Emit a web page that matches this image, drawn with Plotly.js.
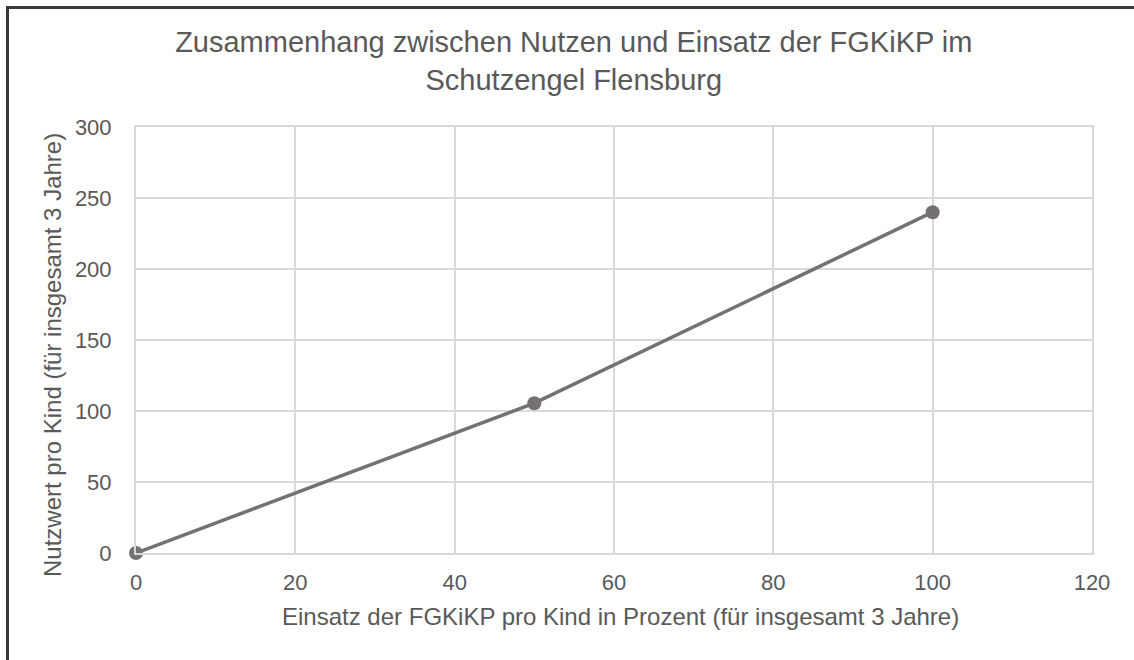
<!DOCTYPE html>
<html>
<head>
<meta charset="utf-8">
<script src="https://cdn.plot.ly/plotly-3.0.1.min.js"></script>
<style>
html,body{margin:0;padding:0;background:#fff;}
#frame{position:absolute;left:0;top:0;width:1134px;height:660px;}
#border{position:absolute;left:6px;top:6px;width:1140px;height:670px;border-left:3px solid #3a3a3a;border-top:3px solid #3a3a3a;pointer-events:none;}
#chart{position:absolute;left:0;top:0;width:1134px;height:660px;}
</style>
</head>
<body>
<div id="frame">
<div id="chart"></div>
<div id="border"></div>
</div>
<script>
const einsatz = [0, 50, 100];
const nutzwert = [0, 105.5, 240];
const xTicks = [0, 20, 40, 60, 80, 100, 120];
const yTicks = [0, 50, 100, 150, 200, 250, 300];
const xTitle = 'Einsatz der FGKiKP pro Kind in Prozent (für insgesamt 3 Jahre)';
const yTitle = 'Nutzwert pro Kind (für insgesamt 3 Jahre)';

const txt = '#595959';
const fnt = '"Liberation Sans", Arial, sans-serif';
const clear = 'rgba(0,0,0,0)';

Plotly.newPlot('chart', [{
  x: einsatz,
  y: nutzwert,
  type: 'scatter',
  mode: 'lines+markers',
  line: {color: '#757171', width: 3.5},
  marker: {color: '#757171', size: 14},
  showlegend: false,
  cliponaxis: false
}], {
  width: 1134, height: 660,
  paper_bgcolor: '#ffffff', plot_bgcolor: '#ffffff',
  margin: {l: 136, r: 42, t: 127, b: 107},
  title: {
    text: 'Zusammenhang zwischen Nutzen und Einsatz der FGKiKP im<br>Schutzengel Flensburg',
    font: {family: fnt, size: 29, color: txt},
    x: 0.506, xanchor: 'center', y: 0.921, yanchor: 'top'
  },
  annotations: [
    {text: xTitle, xref: 'paper', yref: 'paper', x: 0.507, y: -0.150,
     xanchor: 'center', yanchor: 'middle', showarrow: false,
     font: {family: fnt, size: 24, color: txt}},
    {text: yTitle, xref: 'paper', yref: 'paper', x: -0.0868, y: 0.4648,
     xanchor: 'center', yanchor: 'middle', showarrow: false, textangle: -90,
     font: {family: fnt, size: 24, color: txt}}
  ],
  xaxis: {
    range: [0, 120], tickvals: xTicks, ticktext: xTicks.map(String),
    showgrid: true, gridcolor: '#d9d9d9', gridwidth: 2,
    zeroline: false, showline: true, linecolor: '#d9d9d9', linewidth: 2, mirror: true,
    ticks: 'outside', ticklen: 9, tickcolor: clear,
    tickfont: {family: fnt, size: 22, color: txt}
  },
  yaxis: {
    range: [0, 300], tickvals: yTicks, ticktext: yTicks.map(String),
    showgrid: true, gridcolor: '#d9d9d9', gridwidth: 2,
    zeroline: false, showline: true, linecolor: '#d9d9d9', linewidth: 2, mirror: true,
    ticks: 'outside', ticklen: 18, tickcolor: clear,
    tickfont: {family: fnt, size: 22, color: txt}
  }
}, {staticPlot: true});
</script>
</body>
</html>
